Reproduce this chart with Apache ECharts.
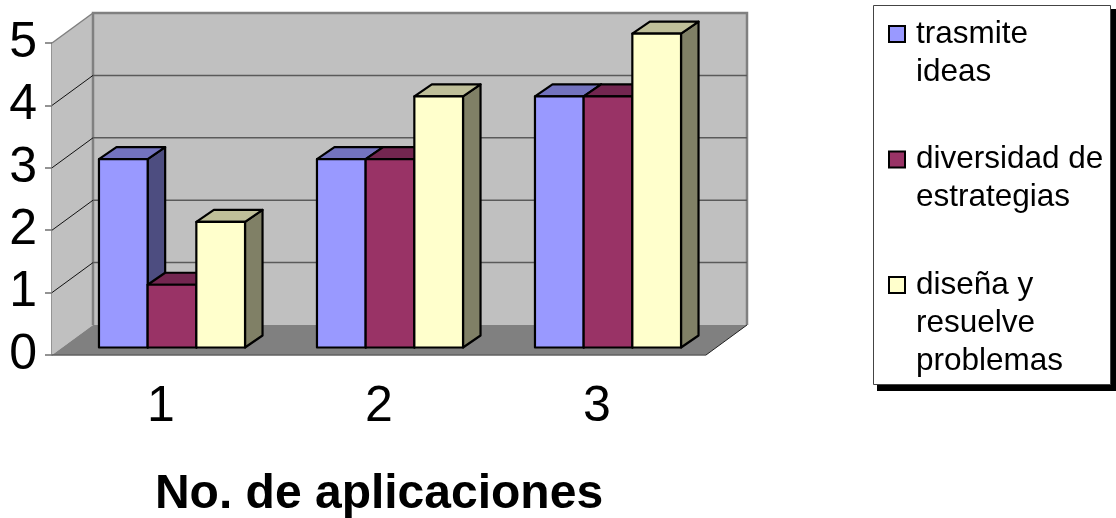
<!DOCTYPE html>
<html>
<head>
<meta charset="utf-8">
<style>html,body{margin:0;padding:0;background:#fff}#c{width:1116px;height:518px}</style>
<script src="https://cdn.jsdelivr.net/npm/echarts@6/dist/echarts.min.js"></script>
</head>
<body>
<div id="c"></div>
<script>
const categories = ['1', '2', '3'];
const yTicks = [0, 1, 2, 3, 4, 5];
const seriesNames = ['trasmite ideas', 'diversidad de estrategias', 'diseña y resuelve problemas'];
const trasmite = [3, 3, 4];
const diversidad = [1, 3, 4];
const disena = [2, 4, 5];
const xTitle = 'No. de aplicaciones';

const FONT = '"Liberation Sans", Arial, sans-serif';

// Pseudo-3D projection of the chart box, in pixels
const WALL_DX = 41, WALL_DY = -30;
const BAR_DX = 11, BAR_DY = -7.5;
const DEPTH_DX = 17.5, DEPTH_DY = -12;
const BAR_SCALE = 1.006;
const GROUP_SHARE = 0.67;

// Front, top and side shades per series
const shades = [
  { front: '#9999FF', top: '#7373BF', side: '#4D4D80' },
  { front: '#993366', top: '#732650', side: '#4D1A33' },
  { front: '#FFFFCC', top: '#BFBF99', side: '#808066' }
];

function renderWalls(params, api) {
  const c = params.coordSys;
  const l = c.x, r = c.x + c.width, t = c.y, b = c.y + c.height;
  const wall = { fill: '#C0C0C0' };
  const frame = { stroke: '#808080', lineWidth: 2.5, fill: null };
  return {
    type: 'group',
    children: [
      { type: 'polygon', shape: { points: [[l + WALL_DX, t + WALL_DY], [r + WALL_DX, t + WALL_DY], [r + WALL_DX, b + WALL_DY], [l + WALL_DX, b + WALL_DY]] }, style: wall },
      { type: 'polygon', shape: { points: [[l, b], [l, t], [l + WALL_DX, t + WALL_DY], [l + WALL_DX, b + WALL_DY]] }, style: wall },
      { type: 'polygon', shape: { points: [[l, b], [l + WALL_DX, b + WALL_DY], [r + WALL_DX, b + WALL_DY], [r, b]] }, style: { fill: '#808080' } },
      { type: 'polyline', shape: { points: [[l + WALL_DX, b + WALL_DY], [l + WALL_DX, t + WALL_DY], [r + WALL_DX, t + WALL_DY], [r + WALL_DX, b + WALL_DY]] }, style: frame },
      { type: 'line', shape: { x1: l, y1: t, x2: l + WALL_DX, y2: t + WALL_DY }, style: { stroke: '#808080', lineWidth: 1.5 } },
      { type: 'line', shape: { x1: r, y1: b, x2: r + WALL_DX, y2: b + WALL_DY }, style: { stroke: '#222', lineWidth: 1 } },
      { type: 'line', shape: { x1: l, y1: b, x2: r, y2: b }, style: { stroke: '#606060', lineWidth: 1.5 } }
    ]
  };
}

function renderGridLine(params, api) {
  const c = params.coordSys;
  const y = api.coord([0, api.value(1)])[1];
  const l = c.x, r = c.x + c.width;
  return {
    type: 'group',
    children: [
      { type: 'line', shape: { x1: l, y1: y, x2: l + WALL_DX, y2: y + WALL_DY }, style: { stroke: '#111', lineWidth: 1 } },
      { type: 'line', shape: { x1: l + WALL_DX, y1: y + WALL_DY, x2: r + WALL_DX, y2: y + WALL_DY }, style: { stroke: '#5A5A5A', lineWidth: 1.5 } }
    ]
  };
}

function barRenderer(seriesIndex) {
  return function (params, api) {
    const shade = shades[seriesIndex];
    const band = api.size([1, 0])[0];
    const w = band * GROUP_SHARE / shades.length;
    const center = api.coord([api.value(0), 0]);
    const top = api.coord([api.value(0), api.value(1)]);
    const x0 = center[0] - band * GROUP_SHARE / 2 + seriesIndex * w + BAR_DX;
    const x1 = x0 + w;
    const yB = center[1] + BAR_DY;
    const yT = yB - (center[1] - top[1]) * BAR_SCALE;
    const edge = { stroke: '#000', lineWidth: 2.2, lineJoin: 'round' };
    return {
      type: 'group',
      children: [
        { type: 'polygon', shape: { points: [[x1, yB], [x1, yT], [x1 + DEPTH_DX, yT + DEPTH_DY], [x1 + DEPTH_DX, yB + DEPTH_DY]] }, style: Object.assign({ fill: shade.side }, edge) },
        { type: 'polygon', shape: { points: [[x0, yT], [x0 + DEPTH_DX, yT + DEPTH_DY], [x1 + DEPTH_DX, yT + DEPTH_DY], [x1, yT]] }, style: Object.assign({ fill: shade.top }, edge) },
        { type: 'polygon', shape: { points: [[x0, yB], [x0, yT], [x1, yT], [x1, yB]] }, style: Object.assign({ fill: shade.front }, edge) }
      ]
    };
  };
}

function barSeries(index, values) {
  return {
    type: 'custom',
    name: seriesNames[index],
    coordinateSystem: 'cartesian2d',
    encode: { x: 0, y: 1 },
    itemStyle: { color: shades[index].front },
    renderItem: barRenderer(index),
    data: values.map((v, i) => [i, v])
  };
}

// Legend rows: the blank lines keep each row's first text line level with its swatch
const legendRows = {
  'trasmite ideas': '\n\ntrasmite\nideas\n',
  'diversidad de estrategias': '\n\ndiversidad de\nestrategias\n',
  'diseña y resuelve problemas': '\n\ndiseña y\nresuelve\nproblemas'
};

const chart = echarts.init(document.getElementById('c'), null, { renderer: 'canvas' });
chart.setOption({
  animation: false,
  backgroundColor: '#fff',
  textStyle: { fontFamily: FONT },
  grid: { left: 52, right: 410, top: 43, bottom: 163, containLabel: false, outerBoundsMode: 'none' },
  xAxis: {
    type: 'category',
    data: categories,
    name: xTitle,
    nameLocation: 'middle',
    nameGap: 140,
    nameTextStyle: { fontFamily: FONT, fontSize: 48, fontWeight: 'bold', color: '#000', verticalAlign: 'middle' },
    axisLine: { show: false },
    axisTick: { show: false },
    axisLabel: { fontFamily: FONT, fontSize: 50, color: '#000', margin: 27 }
  },
  yAxis: {
    type: 'value',
    min: 0,
    max: 5,
    interval: 1,
    splitLine: { show: false },
    axisLine: { show: true, lineStyle: { color: '#707070', width: 1.5 } },
    axisTick: { show: true, length: 7, lineStyle: { color: '#707070', width: 1.5 } },
    axisLabel: { fontFamily: FONT, fontSize: 50, color: '#000', margin: 15, padding: [4, 0, 0, 0] }
  },
  legend: {
    orient: 'vertical',
    left: 888,
    top: -61,
    padding: 0,
    itemGap: -64.5,
    itemWidth: 16,
    itemHeight: 16,
    icon: 'rect',
    selectedMode: false,
    data: seriesNames,
    itemStyle: { borderColor: '#000', borderWidth: 2 },
    textStyle: { fontFamily: FONT, fontSize: 31.5, lineHeight: 38, color: '#000', padding: [0, 0, 0, 6] },
    formatter: name => legendRows[name]
  },
  graphic: [
    { type: 'rect', z: -1, silent: true, shape: { x: 877, y: 9, width: 239, height: 382 }, style: { fill: '#000' } },
    { type: 'rect', z: -1, silent: true, shape: { x: 873.5, y: 5.5, width: 237, height: 379 }, style: { fill: '#fff', stroke: '#444', lineWidth: 1 } }
  ],
  series: [
    { type: 'custom', silent: true, coordinateSystem: 'cartesian2d', encode: { x: 0, y: 1 }, renderItem: renderWalls, data: [[0, 0]] },
    { type: 'custom', silent: true, coordinateSystem: 'cartesian2d', encode: { x: 0, y: 1 }, renderItem: renderGridLine, data: yTicks.slice(1, -1).map(v => [0, v]) },
    barSeries(0, trasmite),
    barSeries(1, diversidad),
    barSeries(2, disena)
  ]
});
</script>
</body>
</html>
